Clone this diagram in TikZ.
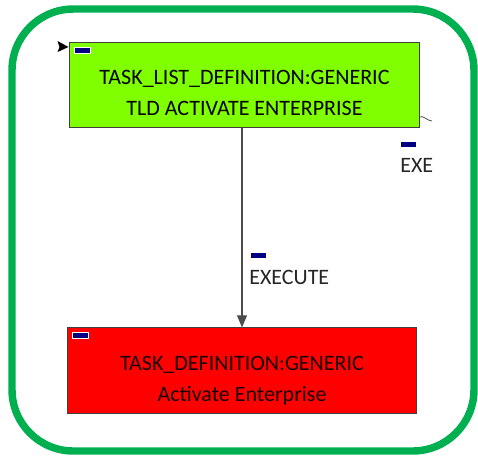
\documentclass[tikz,border=0pt]{standalone}
\usepackage{fontspec}
\setmainfont{Carlito}
\usetikzlibrary{arrows.meta, positioning, calc}

\definecolor{framegreen}{RGB}{0,176,80}
\definecolor{tldgreen}{RGB}{128,255,0}
\definecolor{marknavy}{RGB}{0,0,128}

\begin{document}
\begin{tikzpicture}[
    x=0.75pt, y=-0.75pt,
    >={Triangle[length=9pt, width=7.5pt]}, % default arrow tip
    box/.style={draw=black!75, line width=0.8pt, minimum width=262pt, minimum height=64pt,
                align=center, font=\fontsize{16.5}{23.3}\selectfont, inner sep=0pt},
    flag/.style={fill=marknavy, draw=white, line width=0.4pt, minimum width=12pt,
                 minimum height=4.5pt, inner sep=0pt}, % small navy flag
    lbl/.style={font=\fontsize{16.5}{18}\selectfont, text=black!85, inner sep=0pt}
]

    % page size
    \useasboundingbox (0,0) rectangle (478,455);

    % green rounded frame
    \draw[framegreen, line width=5.6pt, rounded corners=46pt] (12,9) rectangle (474,451);

    % task list definition box
    \node[box, fill=tldgreen] (tld) at (244.5,85)
        {\rule{0pt}{22pt}TASK\_LIST\_DEFINITION:GENERIC\\TLD ACTIVATE ENTERPRISE};
    \node[flag, anchor=north west] (tldflag) at (74,47) {};
    \coordinate (tldin) at (68.5,47);
    \fill[black] (tldin) -- (57.5,41) -- (59.5,47) -- (57.5,52) -- cycle;

    % task definition box
    \node[box, fill=red, text=black!90!red] (td) at (242,370.5)
        {\rule{0pt}{25.5pt}TASK\_DEFINITION:GENERIC\\Activate Enterprise};
    \node[flag, anchor=north west] (tdflag) at (72,332) {};

    % EXECUTE connector
    \draw[->, black!70, line width=0.8pt] (td.north |- tld.south) -- (td.north);
    \node[flag, anchor=north west] (exeflag) at (250,251.5) {};
    \node[lbl, anchor=west] (execute) at (249,277) {EXECUTE};

    % loose EXE stub on the right
    \coordinate (exestart) at (419.5,117);
    \draw[black!70, line width=0.6pt] (exestart) .. controls (424,115) and (427,121) .. (432,121);
    \node[flag, anchor=north west] (stubflag) at (400,140.5) {};
    \node[lbl, anchor=west] (exe) at (400,165.5) {EXE};

\end{tikzpicture}
\end{document}
